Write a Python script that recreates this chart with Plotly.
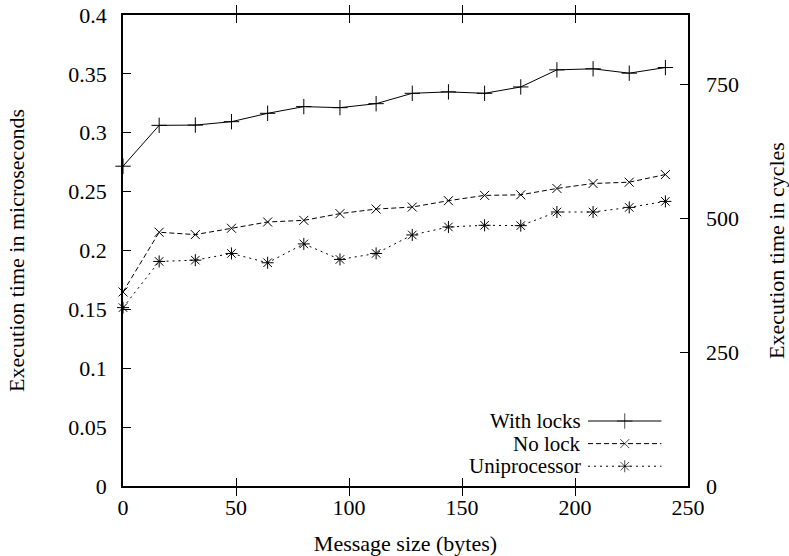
import plotly.graph_objects as go

# ---- data ----
msg_size = [0, 16, 32, 48, 64, 80, 96, 112, 128, 144, 160, 176, 192, 208, 224, 240]
with_locks = [0.2716, 0.3063, 0.3065, 0.3094, 0.3165, 0.3222, 0.3213, 0.3247,
              0.3335, 0.3347, 0.3335, 0.3389, 0.3534, 0.3543, 0.3506, 0.3554]
no_lock = [0.1648, 0.2155, 0.2135, 0.2189, 0.2242, 0.2256, 0.2313, 0.2352,
           0.2369, 0.2423, 0.2468, 0.2473, 0.2527, 0.2569, 0.2580, 0.2645]
uniprocessor = [0.1515, 0.1907, 0.1918, 0.1975, 0.1896, 0.2056, 0.1924, 0.1975,
                0.2132, 0.2200, 0.2214, 0.2211, 0.2327, 0.2327, 0.2366, 0.2417]

series_names = ["With locks", "No lock", "Uniprocessor"]
x_ticks = [0, 50, 100, 150, 200, 250]
y_ticks = [0, 0.05, 0.1, 0.15, 0.2, 0.25, 0.3, 0.35, 0.4]
y_ticktext = ["0", "0.05", "0.1", "0.15", "0.2", "0.25", "0.3", "0.35", "0.4"]
y2_ticks = [0, 250, 500, 750]
y2_max = 879  # cycles corresponding to 0.4 microseconds

FONT = "Liberation Serif"
FS = 22

styles = [
    dict(dash="solid", symbol="cross-thin-open", size=11),
    dict(dash="5px,3px", symbol="x-thin-open", size=9),
    dict(dash="2px,4px", symbol="asterisk-open", size=10),
]
series = [with_locks, no_lock, uniprocessor]

fig = go.Figure()
for name, ys, st in zip(series_names, series, styles):
    fig.add_trace(go.Scatter(
        x=msg_size, y=ys, name=name, mode="lines+markers",
        line=dict(color="black", width=1, dash=st["dash"]),
        marker=dict(symbol=st["symbol"], size=st["size"], color="black",
                    line=dict(color="black", width=1)),
        cliponaxis=False, showlegend=False,
    ))

# ---- custom legend (text left, sample right, like gnuplot) ----
leg_x0, leg_x1 = 0.823, 0.953
leg_text_x = 0.814
leg_rows = [0.138, 0.090, 0.042]
for name, st, yv in zip(series_names, styles, leg_rows):
    fig.add_trace(go.Scatter(
        x=[leg_x0, (leg_x0 + leg_x1) / 2, leg_x1], y=[yv, yv, yv],
        xaxis="x2", yaxis="y3", mode="lines+markers",
        line=dict(color="black", width=1, dash=st["dash"]),
        marker=dict(symbol=st["symbol"], size=[0, st["size"], 0], color="black",
                    line=dict(color="black", width=1)),
        cliponaxis=False, showlegend=False, hoverinfo="skip",
    ))
    fig.add_annotation(x=leg_text_x, y=yv, xref="paper", yref="paper",
                       text=name, showarrow=False, xanchor="right", yanchor="middle",
                       font=dict(family=FONT, size=21, color="black"))

# dummy trace to activate y2
fig.add_trace(go.Scatter(x=[None], y=[None], yaxis="y2", showlegend=False))

axis_common = dict(showgrid=False, zeroline=False, linecolor="black", linewidth=1.5,
                   tickcolor="black", tickwidth=1.2, ticklen=8, ticks="inside",
                   automargin=False,
                   tickfont=dict(family=FONT, size=FS, color="black"))

fig.update_layout(
    width=789, height=556,
    margin=dict(l=123, r=101, t=15, b=70),
    paper_bgcolor="white", plot_bgcolor="white",
    showlegend=False,
    font=dict(family=FONT, size=FS, color="black"),
    xaxis=dict(range=[0, 250], tickvals=x_ticks, showline=True, mirror="allticks",
               ticklabelstandoff=1,
               title=dict(text="Message size (bytes)", standoff=19,
                          font=dict(family=FONT, size=FS, color="black")),
               **axis_common),
    yaxis=dict(range=[0, 0.4], tickvals=y_ticks, ticktext=y_ticktext, showline=True,
               mirror=True, ticklabelstandoff=10,
               title=dict(text="Execution time in microseconds", standoff=38,
                          font=dict(family=FONT, size=FS, color="black")),
               **axis_common),
    yaxis2=dict(range=[0, y2_max], tickvals=y2_ticks, overlaying="y", side="right",
                showline=False, ticklabelstandoff=17,
                title=dict(text="Execution time in cycles", standoff=30,
                           font=dict(family=FONT, size=FS, color="black")),
                **axis_common),
    xaxis2=dict(range=[0, 1], overlaying="x", visible=False, anchor="y3"),
    yaxis3=dict(range=[0, 1], overlaying="y", visible=False, anchor="x2"),
)

fig.write_html("out.html")
